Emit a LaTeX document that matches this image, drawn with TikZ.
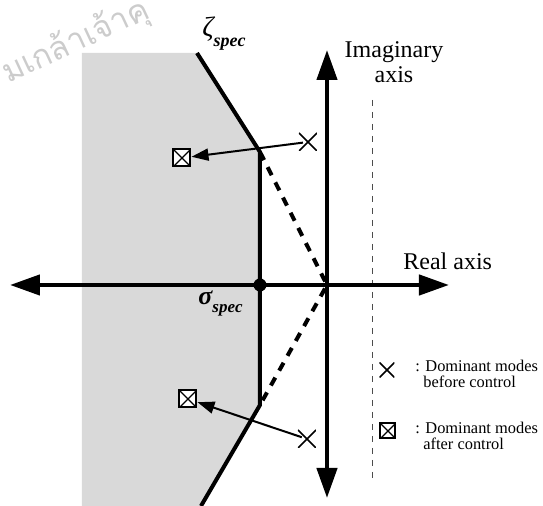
\documentclass[tikz,border=0pt]{standalone}
\usepackage{fontspec}
\setmainfont{Liberation Serif}
\newfontfamily\thaifont[Script=Thai]{Loma}
\usetikzlibrary{arrows.meta}
\begin{document}
\begin{tikzpicture}[x=0.5pt,y=-0.5pt,
  axisline/.style={line width=2.2pt,{Triangle[length=15pt,width=10pt]}-{Triangle[length=15pt,width=10pt]}},
  bound/.style={line width=2pt,line join=miter},
  dbound/.style={line width=2pt,dash pattern=on 4.5pt off 4pt},
  move/.style={line width=1pt,shorten <=-2pt,-{Triangle[length=8.5pt,width=6pt]}},
  xmk/.style={minimum size=#1,inner sep=0pt,outer sep=0pt,
    path picture={\draw[line width=0.75pt]
      (path picture bounding box.south west) -- (path picture bounding box.north east)
      (path picture bounding box.north west) -- (path picture bounding box.south east);}},
  xmk/.default=9pt,
  bxmk/.style={draw,line width=1pt,minimum size=#1,inner sep=0pt,
    path picture={\draw[line width=0.6pt]
      (path picture bounding box.south west) -- (path picture bounding box.north east)
      (path picture bounding box.north west) -- (path picture bounding box.south east);}},
  bxmk/.default=8.5pt,
  lbl/.style={font=\fontsize{12}{12.5}\selectfont,inner sep=0pt},
  lgd/.style={font=\fontsize{8.2}{9}\selectfont,inner sep=0pt,anchor=base west},
  stip/.style={fill=black!15}
]
\useasboundingbox (0,0) rectangle (543,506);
% watermark (faint)
\node[text=black!20,font=\thaifont\fontsize{16}{16}\selectfont,rotate=25,anchor=base west,inner sep=0pt] (wm) at (8,84) {มเกล้าเจ้าคุ};
% boundary points
\coordinate (zt) at (197,53);
\coordinate (cu) at (260,152);
\coordinate (cl) at (260,405);
\coordinate (zb) at (201,506);
\coordinate (o) at (327,285);
% stippled region
\fill[stip] (82,53) -- (zt) -- (cu) -- (cl) -- (zb) -- (82,506) -- cycle;
% thin dashed line
\coordinate (dt) at (372,100);
\coordinate (db) at (372,482);
\draw[black!70,line width=0.45pt,dash pattern=on 3pt off 3pt] (dt) -- (db);
% axes
\coordinate (rl) at (10,285);
\coordinate (rr) at (449,285);
\coordinate (it) at (327,50);
\coordinate (ib) at (327,498);
\draw[axisline] (rl) -- (rr);
\draw[axisline] (ib) -- (it);
% boundary
\draw[bound] (zt) -- (cu) -- (cl) -- (zb);
\draw[dbound] (cu) -- (o) -- (cl);
\node[circle,fill,minimum size=6.5pt,inner sep=0pt] (sig) at (260,285) {};
% modes
\node[xmk] (x1) at (308,142) {};
\node[bxmk,fill=white] (b1) at (182,158) {};
\node[xmk] (x2) at (307,439) {};
\node[bxmk,fill=white] (b2) at (188,399) {};
\draw[move] (x1) -- (b1);
\draw[move] (x2) -- (b2);
% labels
\node[inner sep=0pt,anchor=base west] (zl) at (202,37)
  {\fontsize{14}{14}\selectfont\itshape ζ\raisebox{-5pt}{\fontsize{9}{9}\selectfont\bfseries\itshape spec}};
\node[inner sep=0pt,anchor=base west] (sl) at (198,305)
  {\fontsize{13}{13}\selectfont\bfseries\itshape σ\raisebox{-4pt}{\fontsize{8.5}{9}\selectfont\bfseries\itshape spec}};
\node[lbl,anchor=base] (im1) at (394,58) {Imaginary};
\node[lbl,anchor=base] (im2) at (394,83) {axis};
\node[lbl,anchor=base west] (re) at (403,270) {Real axis};
% legend
\node[xmk=7.5pt] (lx) at (387,370) {};
\node[lgd] (l1a) at (415,372) {: Dominant modes};
\node[lgd] (l1b) at (423,388) {before control};
\node[bxmk=7.5pt] (lb) at (388,431) {};
\node[lgd] (l2a) at (415,434) {: Dominant modes};
\node[lgd] (l2b) at (423,450) {after control};
\end{tikzpicture}
\end{document}
